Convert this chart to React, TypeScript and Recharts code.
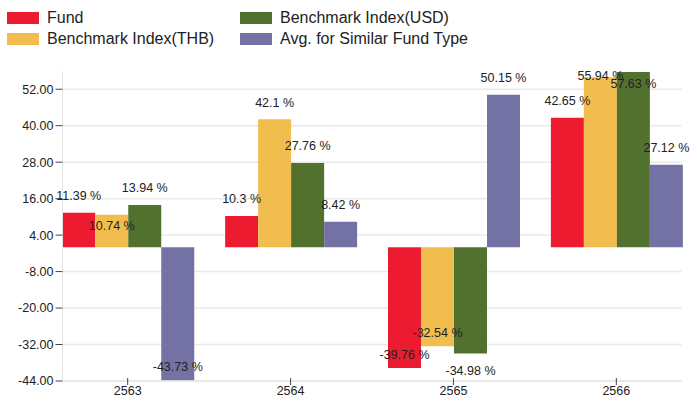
import { BarChart, Bar, XAxis, YAxis, LabelList } from "recharts";

const YEARS = ["2563", "2564", "2565", "2566"];
const FUND = [11.39, 10.3, -39.76, 42.65];
const BENCH_THB = [10.74, 42.1, -32.54, 55.94];
const BENCH_USD = [13.94, 27.76, -34.98, 57.63];
const AVG_SIMILAR = [-43.73, 8.42, 50.15, 27.12];
const Y_TICKS = [-44, -32, -20, -8, 4, 16, 28, 40, 52];
const Y_DOMAIN = [-44, 58];

const SERIES = [
  { key: "fund", name: "Fund", color: "#ED1B2F", values: FUND },
  { key: "thb", name: "Benchmark Index(THB)", color: "#F2BD4F", values: BENCH_THB },
  { key: "usd", name: "Benchmark Index(USD)", color: "#52702E", values: BENCH_USD },
  { key: "avg", name: "Avg. for Similar Fund Type", color: "#7472A5", values: AVG_SIMILAR },
];

const data = YEARS.map((year, i) => {
  const row: Record<string, string | number> = { year };
  SERIES.forEach((s) => {
    row[s.key] = s.values[i];
  });
  return row;
});

// labels that got pushed around to avoid overlapping in the original
const LABEL_NUDGE: Record<string, { from: "top" | "bottom"; dy: number }> = {
  "thb:0": { from: "top", dy: 11 },
  "thb:3": { from: "top", dy: -2 },
  "usd:3": { from: "top", dy: 11 },
  "usd:2": { from: "bottom", dy: 17 },
};

const FONT = '"Liberation Sans", Arial, sans-serif';
const W = 690;
const H = 401;
const MARGIN = { top: 71, right: 8.5, bottom: 0, left: 0 };
const Y_AXIS_W = 62.5;
const X_AXIS_H = 20;

const makeLabel = (seriesKey: string) => (props: any) => {
  const { x, y, width, height, value, index } = props;
  const top = Math.min(y, y + height);
  const bottom = Math.max(y, y + height);
  const nudge = LABEL_NUDGE[`${seriesKey}:${index}`];
  let cy: number;
  if (nudge) cy = (nudge.from === "top" ? top : bottom) + nudge.dy;
  else cy = value >= 0 ? top - 17 : bottom - 14;
  return (
    <text
      x={x + width / 2}
      y={cy}
      dy="0.36em"
      textAnchor="middle"
      fontSize={12.5}
      fontFamily={FONT}
      fill="#222"
    >
      {`${value} %`}
    </text>
  );
};

const XTick = (props: any) => {
  const { x, y, payload } = props;
  return (
    <g>
      <line x1={x} x2={x} y1={y - 3} y2={y + 4} stroke="#444" />
      <text x={x} y={y + 14} textAnchor="middle" fontSize={12.5} fontFamily={FONT} fill="#222">
        {payload.value}
      </text>
    </g>
  );
};

// horizontal grid only at tick values, drawn behind the chart svg
const plotTop = MARGIN.top;
const plotH = H - MARGIN.top - MARGIN.bottom - X_AXIS_H;
const plotLeft = MARGIN.left + Y_AXIS_W;
const plotRight = W - MARGIN.right;
const gridRows = Y_TICKS.map(
  (t) => plotTop + ((Y_DOMAIN[1] - t) / (Y_DOMAIN[1] - Y_DOMAIN[0])) * plotH
);

function GridBackdrop() {
  return (
    <svg width={W} height={H} style={{ position: "absolute", left: 0, top: 0 }}>
      {gridRows.map((gy, i) => (
        <line key={i} x1={plotLeft} x2={plotRight} y1={gy} y2={gy} stroke="#e9e9e9" strokeWidth={1.5} />
      ))}
    </svg>
  );
}

function Legend() {
  const cols = [SERIES.slice(0, 2), SERIES.slice(2, 4)];
  return (
    <div style={{ position: "absolute", left: 0, top: 0, fontFamily: FONT, fontSize: 16, color: "#222" }}>
      {cols.map((col, ci) =>
        col.map((s, ri) => (
          <div
            key={s.key}
            style={{
              position: "absolute",
              left: ci === 0 ? 7 : 240,
              top: 11 + ri * 21,
              display: "flex",
              alignItems: "center",
              whiteSpace: "nowrap",
              height: 14,
            }}
          >
            <span style={{ display: "inline-block", width: 32, height: 12, background: s.color, marginRight: 8 }} />
            <span>{s.name}</span>
          </div>
        ))
      )}
    </div>
  );
}

export default function App() {
  return (
    <div style={{ position: "absolute", left: 0, top: 0, width: W, height: H, background: "#fff" }}>
      <GridBackdrop />
      <Legend />
      <div style={{ position: "absolute", left: 0, top: 0 }}>
        <BarChart
          width={W}
          height={H}
          data={data}
          margin={MARGIN}
          barCategoryGap={16}
          barGap={0}
        >
          <XAxis
            dataKey="year"
            height={X_AXIS_H}
            padding={{ left: -16.25, right: -16.25 }}
            axisLine={{ stroke: "#e3e3e3" }}
            tickLine={false}
            tickSize={0}
            tickMargin={0}
            tick={<XTick />}
            interval={0}
          />
          <YAxis
            width={Y_AXIS_W}
            domain={Y_DOMAIN}
            ticks={Y_TICKS}
            allowDataOverflow
            tickFormatter={(v: number) => v.toFixed(2)}
            axisLine={{ stroke: "#e3e3e3" }}
            tickLine={{ stroke: "#444" }}
            tickSize={7}
            tickMargin={2}
            tick={{ fontSize: 12.5, fontFamily: FONT, fill: "#222" }}
          />
          {SERIES.map((s) => (
            <Bar key={s.key} dataKey={s.key} name={s.name} fill={s.color} isAnimationActive={false}>
              <LabelList dataKey={s.key} content={makeLabel(s.key)} />
            </Bar>
          ))}
        </BarChart>
      </div>
    </div>
  );
}
